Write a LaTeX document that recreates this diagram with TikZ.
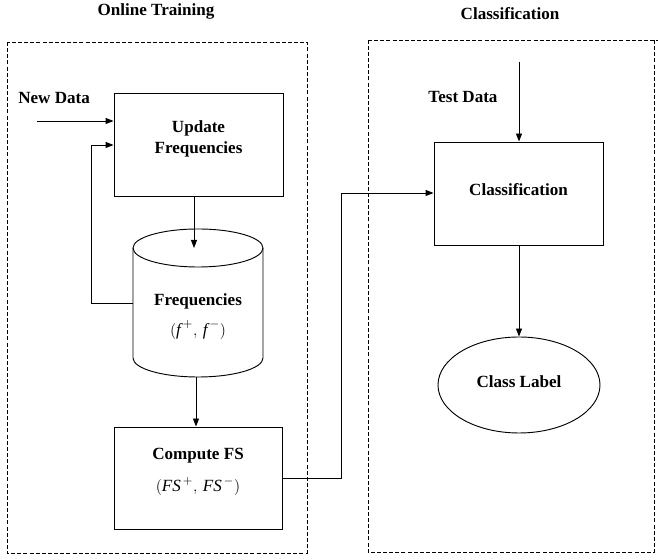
\documentclass[tikz,border=0pt]{standalone}
\usepackage{fontspec}
\setmainfont{Liberation Serif}
\usetikzlibrary{arrows.meta,shapes.geometric}
\tikzset{
  lbl/.style={font=\fontsize{12.8}{15}\selectfont\bfseries, align=center, inner sep=0pt},
  boxnode/.style={draw, line width=0.7pt, minimum width=126.75pt, minimum height=77pt, inner sep=0pt},
  region/.style={draw, line width=0.6pt, dash pattern=on 3pt off 1.6pt},
  conn/.style={line width=0.7pt},
  arr/.style={line width=0.7pt, -{Triangle[length=6pt,width=4.5pt]}},
  mth/.style={font=\fontsize{12.8}{15}\selectfont\mdseries, inner sep=0pt}
}
\newcommand{\pmpair}[1]{$\bigl(\textit{#1}^{\,+},\,\textit{#1}^{\,-}\bigr)$}
\begin{document}
\begin{tikzpicture}[x=0.75pt,y=0.75pt]
\useasboundingbox (0,0) rectangle (658,560);
% regions
\draw[region] (7,518) rectangle (307,7);
\draw[region] (368,520) -- (658,520);
\draw[region] (654,520) -- (654,8) -- (368,8) -- (368,520);
\node[lbl] (t1) at (156,549) {Online Training};
\node[lbl] (t2) at (510,546) {Classification};
% update box
\node[boxnode, minimum width=126.75pt, minimum height=77.25pt] (upd) at (198.5,415.5) {};
\node[lbl] (updt) at (198.5,421) {Update\\[1pt]Frequencies};
\node[lbl, anchor=west] (nd) at (18,462) {New Data};
\coordinate (ndin) at (37,439);
\draw[arr] (ndin) -- (ndin -| upd.west);
% cylinder
\coordinate (cyltop) at (198,312);
\coordinate (cylbot) at (198,202);
\coordinate (cylL) at (133,257);
\draw[line width=0.7pt] (133,312) -- (133,202) arc[start angle=180,end angle=360,x radius=48.75pt,y radius=14.25pt] -- (263,312);
\draw[line width=0.7pt] (cyltop) ellipse [x radius=48.75pt, y radius=14.25pt];
\node[lbl] (freq) at (198,259) {Frequencies};
\node[mth] (freqm) at (198,230) {\pmpair{f}};
% feedback
\coordinate (fbk) at (91,415);
\draw[arr] (cylL) -- (91,257) -- (fbk) -- (fbk -| upd.west);
% update -> cylinder
\draw[arr] (upd.south -| 194,0) -- (cyltop -| 194,0);
% compute box
\node[boxnode, minimum width=126pt, minimum height=76.5pt] (cmp) at (198,82) {};
\node[lbl] (cmpt) at (198,104) {Compute FS};
\node[mth] (cmpm) at (198,74) {$\bigl(\textit{FS}^{\,+},\,\textit{FS}^{\,-}\bigr)$};
\draw[arr] (196,183) -- (cmp.north -| 196,0);
% classification box
\node[boxnode, minimum width=126.75pt, minimum height=77.25pt] (cls) at (518.5,366.5) {};
\node[lbl] (clst) at (518.5,370) {Classification};
\draw[conn] (cmp.east |- 0,82) -- (341,82) -- (341,367);
\draw[arr] (341,367) -- (cls.west |- 0,367);
\node[lbl] (td) at (463,463) {Test Data};
\coordinate (tdin) at (519,498);
\draw[arr] (tdin) -- (cls.north -| tdin);
% ellipse
\node[draw, ellipse, line width=0.7pt, minimum width=121.5pt, minimum height=72pt, inner sep=0pt] (lab) at (519,175) {};
\node[lbl] (labt) at (519,178) {Class Label};
\draw[arr] (cls.south -| 519,0) -- (lab.north);
\end{tikzpicture}
\end{document}
